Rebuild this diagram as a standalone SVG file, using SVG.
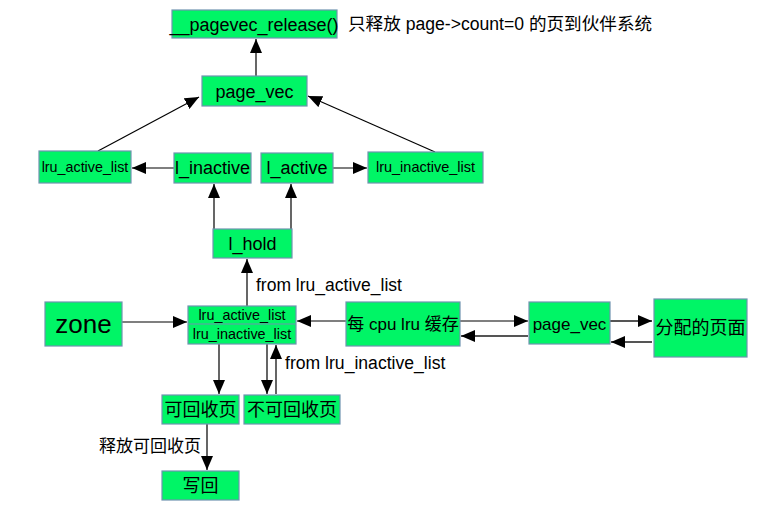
<svg xmlns="http://www.w3.org/2000/svg" width="760" height="527" viewBox="0 0 760 527">
<style>
.box{fill:#00f566;stroke:#6f93b0;stroke-width:1.2}
.t{font-family:"Liberation Sans","Noto Sans CJK SC",sans-serif;fill:#000;text-anchor:middle}
.l{font-family:"Liberation Sans","Noto Sans CJK SC",sans-serif;fill:#000}
.c{stroke:#000;stroke-width:1.2;fill:none;marker-end:url(#ah)}
.g{stroke:#555;stroke-width:1.8;fill:none;marker-end:url(#ah)}
</style>
<defs>
<marker id="ah" viewBox="0 0 14 12" refX="14" refY="6" markerWidth="14" markerHeight="12" markerUnits="userSpaceOnUse" orient="auto">
<path d="M0,0 L14,6 L0,12 Z" fill="#000"/>
</marker>
</defs>
<rect width="760" height="527" fill="#fff"/>
<g id="connectors">
<line class="c" x1="256" y1="76" x2="256" y2="39"/>
<line class="c" x1="98" y1="151" x2="199" y2="97"/>
<line class="c" x1="435" y1="152" x2="308" y2="96"/>
<line class="c" x1="174" y1="168" x2="132" y2="168"/>
<line class="c" x1="333" y1="168" x2="367" y2="168"/>
<line class="c" x1="214" y1="229" x2="214" y2="184"/>
<line class="c" x1="291" y1="229" x2="291" y2="184"/>
<line class="c" x1="247" y1="306" x2="247" y2="259"/>
<line class="c" x1="122" y1="322" x2="187" y2="322"/>
<line class="c" x1="346" y1="321" x2="297" y2="321"/>
<line class="c" x1="460" y1="321" x2="528" y2="321"/>
<line class="g" x1="528" y1="336" x2="461" y2="336"/>
<line class="g" x1="610" y1="321" x2="652" y2="321"/>
<line class="g" x1="652" y1="342" x2="611" y2="342"/>
<line class="g" x1="219" y1="344" x2="219" y2="394"/>
<line class="g" x1="267" y1="344" x2="267" y2="394"/>
<line class="g" x1="276" y1="394" x2="276" y2="345"/>
<line class="g" x1="207" y1="424" x2="207" y2="470"/>
</g>
<g id="n_release"><rect class="box" x="172" y="10" width="165" height="28"/><text class="t" x="254" y="31" font-size="18">__pagevec_release()</text></g>
<text class="l" x="348" y="30" font-size="17.6">只释放 page-&gt;count=0 的页到伙伴系统</text>
<g id="n_pagevec_top"><rect class="box" x="202" y="76" width="105" height="30"/><text class="t" x="254.5" y="98" font-size="18">page_vec</text></g>
<g id="n_lru_active"><rect class="box" x="39" y="151" width="92" height="32"/><text class="t" x="85" y="172" font-size="14.3">lru_active_list</text></g>
<g id="n_l_inactive"><rect class="box" x="174" y="153" width="77" height="30"/><text class="t" x="212.5" y="174" font-size="18">l_inactive</text></g>
<g id="n_l_active"><rect class="box" x="261" y="153" width="72" height="30"/><text class="t" x="297" y="174" font-size="18">l_active</text></g>
<g id="n_lru_inactive"><rect class="box" x="368" y="152" width="115" height="31"/><text class="t" x="425.5" y="172" font-size="14.5">lru_inactive_list</text></g>
<g id="n_l_hold"><rect class="box" x="213" y="229" width="79" height="29"/><text class="t" x="252.5" y="250" font-size="18">l_hold</text></g>
<text class="l" x="256" y="291" font-size="17.5">from lru_active_list</text>
<g id="n_zone"><rect class="box" x="45" y="302" width="77" height="44"/><text class="t" x="83.5" y="333" font-size="26">zone</text></g>
<g id="n_lru"><rect class="box" x="188" y="306" width="108" height="38"/><line x1="188" y1="324" x2="296" y2="324" stroke="#6f93b0" stroke-width="1.2"/><text class="t" x="242" y="320" font-size="14.4">lru_active_list</text><text class="t" x="242" y="339" font-size="14.4">lru_inactive_list</text></g>
<g id="n_percpu"><rect class="box" x="346" y="302" width="114" height="44"/><text class="t" x="403" y="330" font-size="17">每 cpu lru 缓存</text></g>
<g id="n_pagevec2"><rect class="box" x="529" y="302" width="81" height="42"/><text class="t" x="569.5" y="330" font-size="17">page_vec</text></g>
<g id="n_alloc"><rect class="box" x="654" y="299" width="93" height="58"/><text class="t" x="700.5" y="334" font-size="18">分配的页面</text></g>
<text class="l" x="285" y="369" font-size="17.6">from lru_inactive_list</text>
<g id="n_reclaim"><rect class="box" x="162" y="395" width="77" height="29"/><text class="t" x="200.5" y="416" font-size="18">可回收页</text></g>
<g id="n_noreclaim"><rect class="box" x="244" y="395" width="96" height="29"/><text class="t" x="292" y="416" font-size="18">不可回收页</text></g>
<text class="l" x="99" y="452" font-size="17">释放可回收页</text>
<g id="n_writeback"><rect class="box" x="162" y="471" width="77" height="29"/><text class="t" x="200.5" y="492" font-size="18">写回</text></g>
</svg>
